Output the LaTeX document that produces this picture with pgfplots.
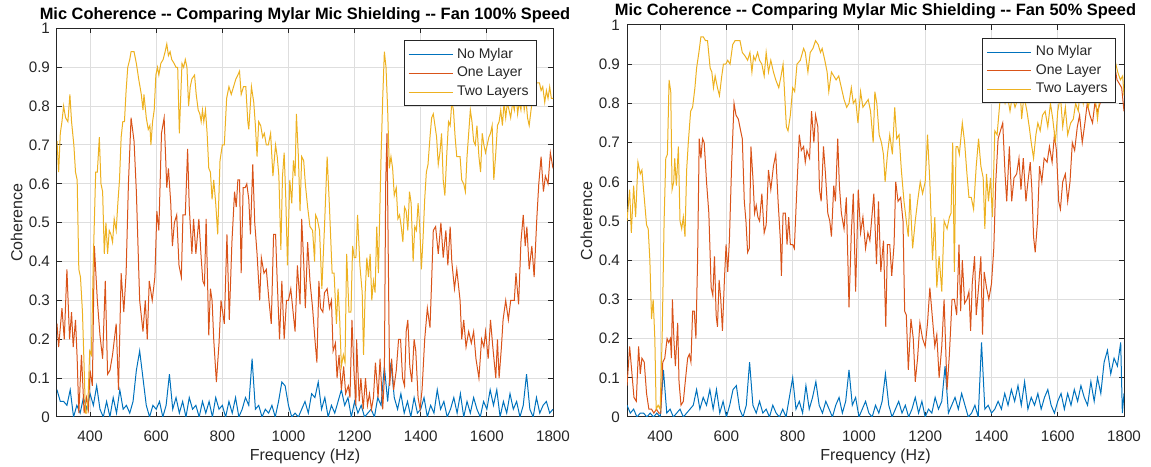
\documentclass[border=0pt]{standalone}
\usepackage{pgfplots}
\pgfplotsset{compat=1.18}
\usepackage{fontspec}
\setmainfont{Liberation Sans}

\definecolor{mblue}{RGB}{0,114,189}
\definecolor{morange}{RGB}{217,83,25}
\definecolor{myellow}{RGB}{237,177,32}
\definecolor{axgray}{RGB}{38,38,38}
\definecolor{gridgray}{RGB}{222,222,222}

\pgfplotsset{
  coh/.style={
    scale only axis,
    xmin=300, xmax=1800, ymin=0, ymax=1,
    xtick={400,600,800,1000,1200,1400,1600,1800},
    ytick={0,0.1,0.2,0.3,0.4,0.5,0.6,0.7,0.8,0.9,1},
    grid=major,
    grid style={gridgray, line width=0.5pt},
    axis line style={axgray, line width=0.5pt},
    tick style={axgray, line width=0.5pt},
    tick align=inside,
    major tick length=2.5pt,
    /pgf/number format/assume math mode=true,
    /pgf/number format/1000 sep={},
    ticklabel style={font=\fontsize{7.6}{9}\selectfont, text=axgray},
    xticklabel style={anchor=base, yshift=-12.5pt},
    xlabel={Frequency (Hz)},
    ylabel={Coherence},
    xlabel style={font=\fontsize{8}{10}\selectfont, text=axgray,
      at={(axis description cs:0.5,0)}, anchor=base, yshift=-21.5pt},
    ylabel style={font=\fontsize{8}{10}\selectfont, text=axgray,
      at={(axis description cs:-0.07,0.5)}, anchor=base, rotate=0},
    every axis title/.style={font=\bfseries\fontsize{8.2}{10}\selectfont,
      at={(axis description cs:0.5,1)}, anchor=base, yshift=4.5pt},
    legend cell align=left,
    legend style={draw=axgray, line width=0.5pt, fill=white,
      font=\fontsize{7}{9}\selectfont, text=axgray, anchor=north east,
      inner xsep=2pt, inner ysep=1.5pt, row sep=-1pt},
    legend image code/.code={\draw[#1, line width=0.5pt] (0pt,0pt) -- (22pt,0pt);},
    every axis plot/.append style={line width=0.5pt},
  }
}

\begin{document}
\begin{tikzpicture}
\useasboundingbox (-28.5pt,-24.5pt) rectangle (547pt,208.5pt);

% ---- left: fan 100%
\begin{axis}[coh, at={(0pt,0pt)}, anchor=south west,
  width=248pt, height=194.3pt,
  title={Mic Coherence {-}{-} Comparing Mylar Mic Shielding {-}{-} Fan 100\% Speed},
  legend style={at={(0.968,0.969)}}]
\addplot[mblue] coordinates {
(300,0.07)(310,0.04)(320,0.04)(330,0.03)(340,0.07)(350,0.00)(360,0.03)(370,0.01)(380,0.05)(390,0.02)
(400,0.06)(410,0.03)(420,0.08)(430,0.02)(440,0.00)(450,0.04)(460,0.00)(470,0.05)(480,0.01)(490,0.07)
(500,0.02)(510,0.03)(520,0.01)(530,0.04)(540,0.12)(550,0.17)(560,0.10)(570,0.03)(580,0.00)(590,0.03)
(600,0.02)(610,0.04)(620,0.00)(630,0.03)(640,0.11)(650,0.02)(660,0.05)(670,0.01)(680,0.04)(690,0.00)
(700,0.05)(710,0.02)(720,0.03)(730,0.00)(740,0.04)(750,0.01)(760,0.04)(770,0.00)(780,0.05)(790,0.02)
(800,0.03)(810,0.00)(820,0.04)(830,0.01)(840,0.05)(850,0.00)(860,0.02)(870,0.05)(880,0.03)(890,0.15)
(900,0.02)(910,0.03)(920,0.00)(930,0.02)(940,0.01)(950,0.03)(960,0.00)(970,0.04)(980,0.09)(990,0.08)
(1000,0.03)(1010,0.00)(1020,0.01)(1030,0.00)(1040,0.02)(1050,0.04)(1060,0.01)(1070,0.06)(1080,0.05)(1090,0.09)
(1100,0.02)(1110,0.05)(1120,0.00)(1130,0.03)(1140,0.01)(1150,0.04)(1160,0.07)(1170,0.03)(1180,0.05)(1190,0.00)
(1200,0.04)(1210,0.01)(1220,0.03)(1230,0.00)(1240,0.01)(1250,0.02)(1260,0.00)(1270,0.05)(1280,0.03)(1290,0.13)
(1300,0.04)(1310,0.14)(1320,0.05)(1330,0.02)(1340,0.06)(1350,0.01)(1360,0.04)(1370,0.00)(1380,0.05)(1390,0.01)
(1400,0.02)(1410,0.05)(1420,0.00)(1430,0.03)(1440,0.01)(1450,0.07)(1460,0.02)(1470,0.04)(1480,0.00)(1490,0.02)
(1500,0.05)(1510,0.01)(1520,0.06)(1530,0.00)(1540,0.04)(1550,0.01)(1560,0.05)(1570,0.02)(1580,0.00)(1590,0.04)
(1600,0.02)(1610,0.07)(1620,0.03)(1630,0.07)(1640,0.00)(1650,0.04)(1660,0.01)(1670,0.06)(1680,0.02)(1690,0.04)
(1700,0.00)(1710,0.03)(1720,0.11)(1730,0.02)(1740,0.00)(1750,0.05)(1760,0.01)(1770,0.03)(1780,0.04)(1790,0.01)
(1800,0.02)
};
\addplot[morange] coordinates {
(300,0.24)(305,0.18)(315,0.28)(322,0.20)(330,0.38)(338,0.20)(344,0.27)(349,0.18)(356,0.25)(361,0.15)
(366,0.01)(374,0.16)(382,0.01)(389,0.05)(395,0.02)(400,0.12)(407,0.08)(413,0.44)(422,0.30)(430,0.21)
(438,0.15)(446,0.35)(453,0.11)(460,0.12)(468,0.16)(479,0.24)(486,0.07)(494,0.37)(502,0.27)(509,0.37)
(516,0.60)(524,0.77)(533,0.71)(540,0.58)(550,0.30)(560,0.22)(567,0.30)(573,0.20)(579,0.35)(588,0.30)
(596,0.36)(602,0.53)(608,0.48)(616,0.73)(624,0.77)(632,0.59)(637,0.64)(644,0.55)(649,0.44)(655,0.50)
(662,0.52)(669,0.39)(676,0.36)(681,0.52)(688,0.52)(695,0.69)(700,0.54)(708,0.42)(713,0.51)(720,0.42)
(729,0.51)(736,0.41)(741,0.35)(746,0.34)(751,0.51)(759,0.21)(764,0.33)(769,0.30)(774,0.20)(782,0.09)
(790,0.19)(796,0.30)(806,0.24)(814,0.47)(821,0.25)(829,0.45)(837,0.58)(842,0.54)(847,0.61)(852,0.61)
(857,0.37)(863,0.59)(869,0.59)(874,0.60)(880,0.56)(885,0.47)(892,0.65)(898,0.50)(905,0.42)(913,0.30)
(918,0.41)(926,0.37)(933,0.38)(941,0.30)(948,0.24)(955,0.47)(961,0.47)(966,0.35)(973,0.20)(980,0.35)
(987,0.20)(994,0.30)(1000,0.30)(1007,0.33)(1014,0.27)(1020,0.22)(1027,0.39)(1035,0.29)(1040,0.51)(1046,0.40)
(1051,0.28)(1058,0.45)(1065,0.35)(1073,0.28)(1080,0.20)(1086,0.14)(1092,0.35)(1097,0.28)(1104,0.27)(1109,0.32)
(1117,0.33)(1124,0.28)(1130,0.30)(1135,0.17)(1142,0.19)(1147,0.10)(1153,0.16)(1160,0.07)(1167,0.13)(1173,0.06)
(1181,0.08)(1186,0.05)(1192,0.25)(1198,0.12)(1204,0.03)(1206,0.20)(1214,0.04)(1219,0.10)(1226,0.02)(1233,0.10)
(1239,0.03)(1245,0.06)(1251,0.02)(1257,0.05)(1263,0.14)(1271,0.05)(1277,0.15)(1285,0.02)(1290,0.10)(1294,0.60)
(1298,0.73)(1302,0.40)(1306,0.08)(1312,0.15)(1318,0.07)(1326,0.12)(1333,0.20)(1339,0.20)(1345,0.10)(1351,0.08)
(1356,0.22)(1361,0.25)(1367,0.13)(1373,0.09)(1380,0.20)(1385,0.17)(1392,0.05)(1398,0.02)(1404,0.07)(1412,0.20)
(1420,0.28)(1428,0.23)(1433,0.35)(1438,0.48)(1445,0.49)(1453,0.42)(1461,0.50)(1468,0.41)(1476,0.48)(1482,0.39)
(1489,0.49)(1494,0.40)(1502,0.33)(1509,0.38)(1519,0.30)(1524,0.20)(1530,0.25)(1537,0.18)(1545,0.22)(1553,0.19)
(1560,0.22)(1567,0.15)(1576,0.10)(1584,0.20)(1591,0.18)(1596,0.22)(1604,0.15)(1611,0.25)(1618,0.18)(1627,0.10)
(1632,0.20)(1637,0.10)(1644,0.18)(1649,0.25)(1657,0.30)(1665,0.25)(1672,0.30)(1683,0.30)(1688,0.37)(1696,0.29)
(1703,0.45)(1710,0.52)(1716,0.44)(1721,0.49)(1728,0.38)(1736,0.44)(1743,0.36)(1751,0.51)(1757,0.60)(1764,0.67)
(1771,0.58)(1777,0.62)(1785,0.60)(1792,0.68)(1800,0.64)
};
\addplot[myellow] coordinates {
(300,0.71)(305,0.63)(310,0.73)(315,0.76)(320,0.80)(326,0.77)(333,0.76)(339,0.83)(344,0.76)(351,0.70)
(356,0.63)(361,0.61)(366,0.38)(371,0.36)(377,0.27)(382,0.13)(386,0.01)(390,0.01)(394,0.05)(399,0.17)
(404,0.16)(410,0.41)(417,0.63)(422,0.63)(428,0.72)(433,0.60)(438,0.58)(443,0.42)(448,0.50)(453,0.42)
(458,0.48)(463,0.47)(468,0.45)(473,0.51)(479,0.48)(484,0.55)(489,0.61)(494,0.72)(499,0.76)(504,0.76)
(509,0.84)(514,0.90)(520,0.92)(524,0.94)(533,0.94)(540,0.91)(547,0.87)(555,0.83)(560,0.79)(563,0.83)
(570,0.77)(576,0.74)(581,0.75)(584,0.70)(589,0.76)(594,0.79)(599,0.88)(604,0.90)(608,0.88)(614,0.91)
(621,0.92)(627,0.94)(632,0.96)(637,0.93)(642,0.94)(647,0.92)(654,0.91)(660,0.90)(665,0.90)(670,0.73)
(678,0.91)(683,0.90)(688,0.92)(693,0.90)(698,0.80)(703,0.85)(708,0.87)(716,0.88)(721,0.83)(727,0.79)
(732,0.78)(736,0.76)(740,0.79)(744,0.76)(749,0.79)(754,0.73)(759,0.64)(764,0.63)(769,0.56)(774,0.61)
(780,0.55)(786,0.47)(793,0.66)(800,0.70)(806,0.70)(813,0.82)(820,0.85)(827,0.83)(834,0.85)(841,0.87)
(847,0.88)(852,0.89)(857,0.83)(864,0.85)(871,0.85)(877,0.76)(880,0.74)(888,0.85)(895,0.81)(900,0.75)
(905,0.67)(910,0.76)(916,0.75)(922,0.72)(927,0.73)(933,0.70)(939,0.70)(946,0.73)(953,0.62)(961,0.70)
(966,0.67)(971,0.62)(977,0.43)(982,0.62)(987,0.68)(992,0.56)(997,0.39)(1004,0.61)(1010,0.55)(1015,0.66)
(1020,0.62)(1024,0.78)(1030,0.67)(1035,0.53)(1040,0.67)(1046,0.66)(1051,0.60)(1058,0.54)(1065,0.49)(1073,0.48)
(1079,0.40)(1082,0.52)(1087,0.51)(1094,0.48)(1101,0.33)(1109,0.49)(1117,0.67)(1124,0.54)(1132,0.37)(1138,0.37)
(1145,0.24)(1150,0.33)(1155,0.25)(1160,0.13)(1166,0.16)(1171,0.14)(1176,0.42)(1183,0.27)(1189,0.27)(1194,0.44)
(1199,0.41)(1204,0.41)(1209,0.52)(1216,0.39)(1223,0.32)(1227,0.16)(1232,0.32)(1237,0.41)(1242,0.36)(1247,0.42)
(1252,0.30)(1257,0.35)(1262,0.32)(1267,0.49)(1272,0.37)(1280,0.67)(1285,0.82)(1290,0.94)(1295,0.90)(1300,0.79)
(1305,0.64)(1310,0.67)(1315,0.64)(1320,0.57)(1326,0.59)(1331,0.51)(1336,0.52)(1341,0.49)(1346,0.45)(1351,0.54)
(1356,0.53)(1361,0.48)(1366,0.58)(1371,0.55)(1377,0.40)(1382,0.49)(1387,0.48)(1392,0.55)(1397,0.49)(1402,0.38)
(1407,0.46)(1412,0.56)(1417,0.63)(1422,0.65)(1428,0.72)(1433,0.77)(1438,0.78)(1443,0.75)(1448,0.72)(1453,0.65)
(1458,0.68)(1463,0.73)(1468,0.61)(1473,0.57)(1479,0.68)(1484,0.76)(1489,0.75)(1494,0.81)(1499,0.79)(1504,0.72)
(1509,0.67)(1514,0.67)(1519,0.67)(1524,0.61)(1530,0.60)(1535,0.58)(1540,0.67)(1545,0.73)(1550,0.79)(1555,0.76)
(1560,0.71)(1565,0.70)(1570,0.75)(1576,0.67)(1581,0.63)(1586,0.73)(1591,0.70)(1596,0.68)(1601,0.70)(1606,0.72)
(1611,0.73)(1616,0.75)(1621,0.61)(1627,0.68)(1632,0.75)(1637,0.76)(1642,0.79)(1647,0.75)(1652,0.81)(1657,0.77)
(1662,0.81)(1667,0.79)(1672,0.77)(1678,0.81)(1683,0.79)(1688,0.84)(1693,0.78)(1698,0.81)(1703,0.79)(1708,0.84)
(1713,0.79)(1718,0.82)(1723,0.77)(1728,0.75)(1735,0.80)(1742,0.83)(1750,0.86)(1759,0.86)(1764,0.84)(1769,0.85)
(1775,0.81)(1780,0.84)(1785,0.82)(1790,0.85)(1795,0.82)(1800,0.82)
};
\legend{No Mylar,One Layer,Two Layers}
\end{axis}

% ---- right: fan 50%
\begin{axis}[coh, at={(285pt,0pt)}, anchor=south west,
  width=248.5pt, height=196pt,
  title={Mic Coherence {-}{-} Comparing Mylar Mic Shielding {-}{-} Fan 50\% Speed},
  legend style={at={(0.984,0.967)}}]
\addplot[mblue] coordinates {
(300,0.03)(310,0.01)(320,0.02)(330,0.00)(340,0.01)(350,0.01)(360,0.00)(370,0.01)(380,0.00)(390,0.01)
(400,0.00)(410,0.12)(420,0.01)(430,0.02)(440,0.00)(450,0.01)(460,0.02)(470,0.00)(480,0.01)(490,0.02)
(500,0.03)(510,0.07)(520,0.02)(530,0.05)(540,0.03)(550,0.07)(560,0.02)(570,0.07)(580,0.01)(590,0.04)
(600,0.00)(610,0.03)(620,0.07)(630,0.08)(640,0.02)(650,0.00)(660,0.03)(670,0.14)(680,0.03)(690,0.01)
(700,0.04)(710,0.01)(720,0.02)(730,0.00)(740,0.03)(750,0.01)(760,0.00)(770,0.02)(780,0.00)(790,0.05)
(800,0.10)(810,0.02)(820,0.04)(830,0.01)(840,0.08)(850,0.02)(860,0.05)(870,0.09)(880,0.03)(890,0.01)
(900,0.04)(910,0.02)(920,0.00)(930,0.03)(940,0.05)(950,0.01)(960,0.04)(970,0.12)(980,0.03)(990,0.05)
(1000,0.00)(1010,0.02)(1020,0.04)(1030,0.01)(1040,0.00)(1050,0.03)(1060,0.01)(1070,0.04)(1080,0.11)(1090,0.03)
(1100,0.00)(1110,0.02)(1120,0.04)(1130,0.01)(1140,0.03)(1150,0.00)(1160,0.02)(1170,0.05)(1180,0.01)(1190,0.04)
(1200,0.00)(1210,0.02)(1220,0.01)(1230,0.05)(1240,0.02)(1250,0.04)(1260,0.13)(1270,0.01)(1280,0.03)(1290,0.05)
(1300,0.02)(1310,0.06)(1320,0.03)(1330,0.00)(1340,0.01)(1350,0.03)(1360,0.00)(1370,0.19)(1380,0.02)(1390,0.03)
(1400,0.01)(1410,0.02)(1420,0.04)(1430,0.02)(1440,0.06)(1450,0.03)(1460,0.07)(1470,0.04)(1480,0.08)(1490,0.03)
(1500,0.09)(1510,0.02)(1520,0.05)(1530,0.03)(1540,0.06)(1550,0.02)(1560,0.05)(1570,0.07)(1580,0.03)(1590,0.01)
(1600,0.04)(1610,0.06)(1620,0.02)(1630,0.06)(1640,0.03)(1650,0.07)(1660,0.04)(1670,0.08)(1680,0.05)(1690,0.03)
(1700,0.09)(1710,0.04)(1720,0.10)(1730,0.06)(1740,0.14)(1750,0.17)(1760,0.11)(1770,0.15)(1780,0.13)(1790,0.19)
(1795,0.01)(1800,0.06)
};
\addplot[morange] coordinates {
(300,0.08)(308,0.18)(315,0.11)(321,0.05)(328,0.04)(335,0.18)(340,0.11)(345,0.15)(352,0.14)(359,0.06)
(366,0.02)(374,0.02)(381,0.01)(389,0.02)(396,0.01)(402,0.01)(408,0.14)(414,0.15)(421,0.20)(426,0.19)
(431,0.20)(434,0.15)(437,0.30)(442,0.19)(446,0.13)(453,0.24)(457,0.09)(463,0.03)(470,0.04)(477,0.10)
(483,0.15)(488,0.16)(493,0.14)(498,0.27)(503,0.27)(508,0.20)(513,0.40)(518,0.71)(523,0.66)(528,0.71)
(533,0.70)(540,0.60)(547,0.52)(554,0.33)(559,0.31)(564,0.41)(569,0.26)(573,0.23)(578,0.35)(583,0.30)
(588,0.22)(594,0.35)(599,0.44)(604,0.37)(609,0.45)(616,0.65)(623,0.80)(629,0.77)(636,0.76)(643,0.73)
(648,0.71)(654,0.55)(659,0.50)(664,0.42)(669,0.43)(674,0.69)(680,0.61)(685,0.52)(690,0.54)(695,0.51)
(700,0.50)(707,0.57)(714,0.47)(720,0.49)(727,0.63)(734,0.58)(742,0.64)(749,0.67)(756,0.55)(763,0.45)
(766,0.36)(771,0.52)(778,0.52)(783,0.44)(788,0.51)(793,0.44)(800,0.44)(805,0.43)(813,0.59)(820,0.72)
(826,0.68)(833,0.69)(838,0.65)(843,0.68)(851,0.66)(857,0.78)(864,0.70)(869,0.77)(876,0.74)(881,0.58)
(886,0.55)(893,0.69)(899,0.62)(906,0.52)(912,0.50)(917,0.46)(924,0.59)(929,0.55)(936,0.71)(941,0.59)
(947,0.52)(955,0.48)(962,0.56)(970,0.28)(977,0.47)(983,0.57)(990,0.32)(998,0.58)(1005,0.47)(1012,0.51)
(1020,0.43)(1027,0.47)(1033,0.45)(1040,0.52)(1045,0.57)(1053,0.39)(1059,0.55)(1066,0.37)(1074,0.45)(1081,0.23)
(1086,0.44)(1093,0.44)(1099,0.36)(1106,0.44)(1111,0.60)(1118,0.55)(1126,0.56)(1133,0.50)(1138,0.27)(1143,0.26)
(1149,0.12)(1157,0.25)(1164,0.20)(1170,0.09)(1177,0.15)(1184,0.24)(1192,0.20)(1200,0.18)(1207,0.24)(1214,0.33)
(1222,0.25)(1229,0.18)(1235,0.21)(1242,0.10)(1250,0.18)(1257,0.30)(1266,0.07)(1273,0.16)(1281,0.30)(1288,0.30)
(1295,0.26)(1302,0.44)(1307,0.27)(1312,0.40)(1319,0.29)(1326,0.30)(1332,0.32)(1337,0.22)(1342,0.34)(1349,0.41)
(1354,0.26)(1361,0.33)(1368,0.41)(1373,0.21)(1378,0.37)(1385,0.33)(1392,0.30)(1400,0.34)(1407,0.43)(1413,0.60)
(1420,0.71)(1427,0.73)(1434,0.75)(1441,0.62)(1446,0.55)(1454,0.69)(1461,0.55)(1468,0.61)(1476,0.62)(1483,0.66)
(1489,0.58)(1496,0.66)(1504,0.55)(1510,0.60)(1517,0.65)(1522,0.58)(1527,0.46)(1532,0.42)(1539,0.50)(1545,0.64)
(1552,0.60)(1559,0.66)(1568,0.65)(1575,0.69)(1583,0.65)(1590,0.72)(1596,0.68)(1603,0.55)(1608,0.53)(1615,0.60)
(1623,0.62)(1630,0.55)(1637,0.60)(1644,0.70)(1651,0.68)(1659,0.74)(1666,0.77)(1674,0.70)(1682,0.75)(1689,0.80)
(1697,0.77)(1705,0.75)(1712,0.80)(1720,0.78)(1728,0.80)(1735,0.83)(1742,0.82)(1750,0.85)(1760,0.86)(1771,0.90)
(1779,0.86)(1786,0.85)(1793,0.84)(1800,0.78)
};
\addplot[myellow] coordinates {
(300,0.50)(308,0.58)(313,0.47)(320,0.59)(326,0.51)(333,0.65)(340,0.62)(345,0.63)(352,0.56)(359,0.49)
(364,0.48)(369,0.40)(374,0.25)(379,0.30)(384,0.20)(388,0.02)(394,0.03)(400,0.02)(406,0.20)(412,0.50)
(417,0.66)(422,0.67)(427,0.86)(432,0.83)(436,0.58)(441,0.60)(444,0.66)(449,0.59)(455,0.69)(460,0.50)
(465,0.48)(470,0.51)(475,0.46)(480,0.63)(485,0.70)(492,0.78)(498,0.79)(505,0.84)(510,0.89)(517,0.93)
(523,0.97)(530,0.97)(537,0.96)(543,0.96)(551,0.89)(556,0.88)(561,0.84)(566,0.87)(573,0.84)(579,0.82)
(586,0.87)(591,0.90)(598,0.90)(604,0.91)(611,0.90)(619,0.95)(626,0.96)(634,0.96)(641,0.96)(648,0.93)
(657,0.92)(664,0.91)(671,0.93)(677,0.88)(682,0.92)(687,0.91)(694,0.93)(700,0.91)(707,0.90)(714,0.87)
(720,0.93)(727,0.88)(734,0.91)(742,0.88)(749,0.86)(758,0.84)(765,0.87)(771,0.90)(776,0.82)(781,0.74)
(786,0.73)(793,0.77)(800,0.84)(806,0.83)(813,0.90)(823,0.91)(833,0.94)(838,0.93)(846,0.88)(853,0.93)
(861,0.94)(869,0.96)(877,0.95)(884,0.93)(889,0.94)(897,0.91)(904,0.88)(909,0.83)(917,0.88)(924,0.87)
(931,0.86)(939,0.87)(947,0.84)(955,0.81)(963,0.79)(970,0.80)(977,0.84)(983,0.80)(990,0.81)(997,0.75)
(1005,0.83)(1012,0.79)(1020,0.80)(1028,0.81)(1035,0.78)(1043,0.70)(1048,0.83)(1054,0.80)(1061,0.72)(1068,0.70)
(1074,0.67)(1079,0.60)(1086,0.67)(1093,0.72)(1101,0.67)(1108,0.79)(1114,0.71)(1121,0.72)(1128,0.63)(1136,0.55)
(1143,0.50)(1149,0.46)(1154,0.57)(1162,0.43)(1170,0.50)(1177,0.55)(1185,0.60)(1192,0.57)(1200,0.60)(1207,0.72)
(1214,0.60)(1222,0.40)(1229,0.51)(1235,0.33)(1242,0.41)(1250,0.32)(1257,0.50)(1266,0.48)(1273,0.51)(1278,0.52)
(1283,0.70)(1288,0.37)(1293,0.69)(1298,0.69)(1303,0.67)(1312,0.75)(1319,0.70)(1326,0.62)(1332,0.56)(1339,0.56)
(1346,0.53)(1354,0.64)(1361,0.71)(1368,0.64)(1375,0.61)(1380,0.48)(1385,0.62)(1391,0.55)(1397,0.61)(1403,0.51)
(1410,0.73)(1417,0.72)(1425,0.80)(1432,0.83)(1441,0.80)(1448,0.82)(1456,0.78)(1463,0.82)(1471,0.79)(1479,0.81)
(1486,0.85)(1491,0.76)(1498,0.82)(1507,0.78)(1514,0.74)(1520,0.70)(1527,0.66)(1534,0.72)(1540,0.75)(1547,0.73)
(1554,0.77)(1562,0.78)(1570,0.74)(1578,0.80)(1585,0.76)(1593,0.70)(1600,0.78)(1608,0.82)(1615,0.74)(1623,0.79)
(1630,0.72)(1639,0.75)(1647,0.76)(1654,0.80)(1662,0.78)(1669,0.85)(1677,0.80)(1684,0.84)(1692,0.79)(1700,0.82)
(1708,0.82)(1715,0.80)(1720,0.76)(1725,0.80)(1730,0.83)(1740,0.85)(1750,0.87)(1760,0.90)(1770,0.92)(1781,0.88)
(1789,0.86)(1796,0.87)(1800,0.82)
};
\legend{No Mylar,One Layer,Two Layers}
\end{axis}
\end{tikzpicture}
\end{document}
